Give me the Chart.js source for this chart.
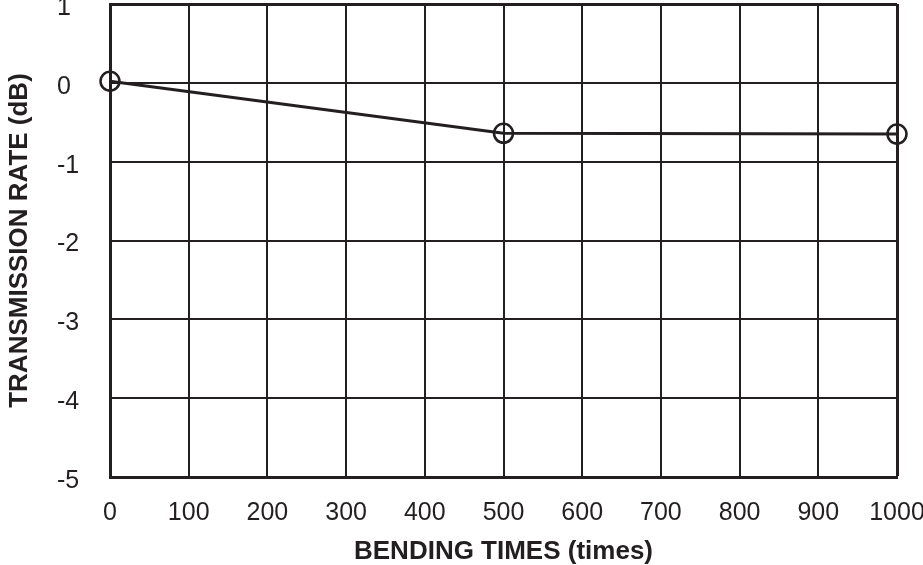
<!DOCTYPE html>
<html>
<head>
<meta charset="utf-8">
<script src="https://cdn.jsdelivr.net/npm/chart.js@4/dist/chart.umd.min.js"></script>
<style>
  html, body { margin: 0; padding: 0; background: #fff; }
  #wrap { width: 923px; height: 565px; }
</style>
</head>
<body>
<div id="wrap"><canvas id="c" width="923" height="565"></canvas></div>
<script>
const bendingTimes = [0, 500, 1000];
const transmissionRate = [0.02, -0.64, -0.65];
const xTickValues = [0, 100, 200, 300, 400, 500, 600, 700, 800, 900, 1000];
const yTickValues = [1, 0, -1, -2, -3, -4, -5];
const xTitle = 'BENDING TIMES (times)';
const yTitle = 'TRANSMISSION RATE (dB)';

const ink = '#231f20';
const fontFamily = '"Liberation Sans", Arial, Helvetica, sans-serif';

const points = bendingTimes.map((x, i) => ({ x: x, y: transmissionRate[i] }));

new Chart(document.getElementById('c'), {
  type: 'line',
  data: {
    datasets: [{
      data: points,
      borderColor: ink,
      borderWidth: 3,
      pointRadius: 9.5,
      pointHoverRadius: 9.5,
      pointBorderWidth: 2.5,
      pointBorderColor: ink,
      pointBackgroundColor: 'rgba(0,0,0,0)',
      tension: 0,
      clip: false
    }]
  },
  options: {
    responsive: false,
    animation: false,
    devicePixelRatio: 1,
    layout: { autoPadding: false, padding: { left: 57, right: 26, top: 4, bottom: 0 } },
    plugins: { legend: { display: false }, tooltip: { enabled: false } },
    scales: {
      x: {
        type: 'linear',
        min: xTickValues[0],
        max: xTickValues[xTickValues.length - 1],
        afterBuildTicks: (s) => { s.ticks = xTickValues.map(v => ({ value: v })); },
        afterFit: (s) => { s.height = 88; s.paddingLeft = 0; s.paddingRight = 0; },
        ticks: {
          autoSkip: false,
          maxRotation: 0,
          padding: 21,
          color: ink,
          callback: (v) => String(v),
          font: { family: fontFamily, size: 25 }
        },
        grid: {
          drawTicks: false,
          color: ink,
          lineWidth: (ctx) => (ctx.tick && ctx.tick.value === 1000) ? 3 : 2
        },
        border: { display: true, width: 3, color: ink },
        title: {
          display: true,
          text: xTitle,
          color: ink,
          padding: { top: 0, bottom: 0 },
          font: { family: fontFamily, size: 26, weight: 'bold', lineHeight: 1 }
        }
      },
      y: {
        type: 'linear',
        min: -5,
        max: 1,
        afterBuildTicks: (s) => { s.ticks = yTickValues.slice().reverse().map(v => ({ value: v })); },
        afterFit: (s) => { s.width = 53; s.paddingTop = 0; s.paddingBottom = 0; },
        ticks: {
          crossAlign: 'far',
          labelOffset: 4,
          padding: 0,
          color: ink,
          callback: (v) => String(v),
          font: { family: fontFamily, size: 25 }
        },
        grid: {
          drawTicks: false,
          color: ink,
          lineWidth: (ctx) => (ctx.tick && ctx.tick.value === 1) ? 3 : 2
        },
        border: { display: true, width: 3, color: ink },
        title: {
          display: true,
          text: yTitle,
          color: ink,
          padding: { top: -50, bottom: 0 },
          font: { family: fontFamily, size: 26, weight: 'bold', lineHeight: 1 }
        }
      }
    }
  }
});
</script>
</body>
</html>
